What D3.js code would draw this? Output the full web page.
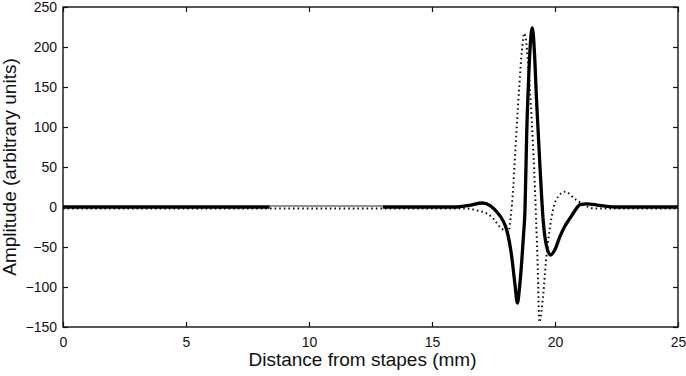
<!DOCTYPE html>
<html>
<head>
<meta charset="utf-8">
<script src="https://cdn.jsdelivr.net/npm/d3@7"></script>
<style>
  body { margin: 0; background: #fff; }
  svg text { font-family: "Liberation Sans", Arial, Helvetica, sans-serif; fill: #111; }
</style>
</head>
<body>
<div id="chart"></div>
<script>
// values (distance in mm, amplitude in arbitrary units)
const solidX = [0, 8.4, 13.0, 16.0, 16.5, 17.05, 17.35, 17.63, 17.9, 18.04, 18.24, 18.37, 18.47,
  18.56, 18.65, 18.72, 18.78, 18.85, 18.92, 19.0, 19.08, 19.17, 19.25, 19.39, 19.52, 19.65, 19.82,
  20.0, 20.2, 20.4, 20.61, 20.8, 21.02, 21.3, 21.8, 22.4, 25];
const solidY = [0, 0, 0, 0, 2, 5, 2, -6, -18, -29, -62, -96, -120,
  -100, -67, -35, -4, 92, 154, 205, 224, 190, 133, 50, -17, -48, -60,
  -53, -37, -24, -14, -5, 3, 4, 2, 0, 0];

const dottedX = [0, 16.4, 16.9, 17.22, 17.5, 17.76, 18.0, 18.12, 18.2, 18.3, 18.37, 18.44, 18.55,
  18.65, 18.75, 18.84, 18.92, 19.05, 19.15, 19.23, 19.3, 19.36, 19.45, 19.52, 19.63, 19.77,
  19.93, 20.13, 20.41, 20.81, 21.15, 21.6, 25];
const dottedY = [0, 0, -3, -6, -13, -23, -28, -28, -10, 25, 62, 100, 154,
  196, 219, 205, 175, 112, 50, -12, -75, -142, -128, -108, -67, -29,
  0, 15, 21, 12, 5, 0, 0];

const thinRange = [8.4, 13.0];          // stretch where the solid trace is drawn thin
const xTicks = [0, 5, 10, 15, 20, 25];
const yTicks = [-150, -100, -50, 0, 50, 100, 150, 200, 250];

const width = 686, height = 376;
const margin = { top: 7, right: 8, bottom: 49, left: 63 };
const W = width - margin.left - margin.right;
const H = height - margin.top - margin.bottom;

const x = d3.scaleLinear().domain([0, 25]).range([0, W]);
const y = d3.scaleLinear().domain([-150, 250]).range([H, 0]);

const svg = d3.select('#chart').append('svg')
  .attr('width', width).attr('height', height);
const g = svg.append('g').attr('transform', `translate(${margin.left},${margin.top})`);

const solid = solidX.map((v, i) => ({ x: v, y: solidY[i] }));
const dotted = dottedX.map((v, i) => ({ x: v, y: dottedY[i] }));

const line = d3.line().x(d => x(d.x)).y(d => y(d.y)).curve(d3.curveMonotoneX);

// dotted trace (underneath)
g.append('path').datum(dotted)
  .attr('fill', 'none').attr('stroke', '#111')
  .attr('stroke-width', 2).attr('stroke-dasharray', '1.6,3')
  .attr('transform', 'translate(0,1.5)')
  .attr('d', line);

// solid trace: thick except for the thin stretch
const before = solid.filter(d => d.x <= thinRange[0]);
const mid = solid.filter(d => d.x >= thinRange[0] && d.x <= thinRange[1]);
const after = solid.filter(d => d.x >= thinRange[1]);
[before, after].forEach(part => {
  g.append('path').datum(part)
    .attr('fill', 'none').attr('stroke', '#000')
    .attr('stroke-width', 3.3).attr('stroke-linejoin', 'round')
    .attr('d', line);
});
g.append('path').datum(mid)
  .attr('fill', 'none').attr('stroke', '#222')
  .attr('stroke-width', 1).attr('transform', 'translate(0,-1)')
  .attr('d', line);

// axes, matlab style: inward ticks on all four sides
const tl = 5;
g.append('g').attr('transform', `translate(0,${H})`)
  .call(d3.axisBottom(x).tickValues(xTicks).tickSize(-tl).tickPadding(10).tickFormat(d3.format('d')))
  .call(a => a.select('.domain').remove())
  .selectAll('text').attr('font-size', '14px');
g.append('g')
  .call(d3.axisTop(x).tickValues(xTicks).tickSize(-tl).tickFormat(''))
  .call(a => a.select('.domain').remove());
g.append('g')
  .call(d3.axisLeft(y).tickValues(yTicks).tickSize(-tl).tickPadding(6)
    .tickFormat(d => d < 0 ? '\u2212' + Math.abs(d) : d))
  .call(a => a.select('.domain').remove())
  .selectAll('text').attr('font-size', '14px');
g.append('g').attr('transform', `translate(${W},0)`)
  .call(d3.axisRight(y).tickValues(yTicks).tickSize(-tl).tickFormat(''))
  .call(a => a.select('.domain').remove());
g.selectAll('.tick line').attr('stroke', '#111').attr('stroke-width', 1.2);

g.append('rect').attr('width', W).attr('height', H)
  .attr('fill', 'none').attr('stroke', '#111').attr('stroke-width', 1.4);

// labels
svg.append('text')
  .attr('x', margin.left + W / 2 - 8).attr('y', 366)
  .attr('text-anchor', 'middle').attr('font-size', '19px')
  .text('Distance from stapes (mm)');
svg.append('text')
  .attr('transform', `translate(16,${margin.top + H / 2}) rotate(-90)`)
  .attr('text-anchor', 'middle').attr('font-size', '19px')
  .text('Amplitude (arbitrary units)');
</script>
</body>
</html>
